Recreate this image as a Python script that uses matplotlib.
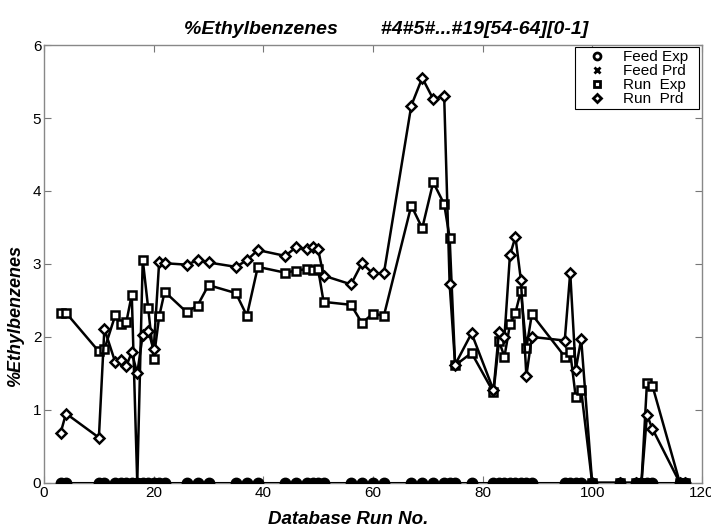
import numpy as np
import matplotlib.pyplot as plt
from matplotlib.lines import Line2D

plt.rcParams['font.family'] = ['Liberation Sans', 'DejaVu Sans']

# =============================
# DATA
# =============================
run_no = [3, 4, 10, 11, 13, 14, 15, 16, 17, 18, 19, 20, 21, 22, 26, 28, 30,
          35, 37, 39, 44, 46, 48, 49, 50, 51, 56, 58, 60, 62, 67, 69, 71, 73,
          74, 75, 78, 82, 83, 84, 85, 86, 87, 88, 89, 95, 96, 97, 98, 100,
          105, 108, 109, 110, 111, 116, 117]

run_exp = [2.33, 2.33, 1.80, 1.83, 2.30, 2.17, 2.20, 2.58, 0.00, 3.06, 2.39,
           1.70, 2.28, 2.62, 2.34, 2.43, 2.71, 2.60, 2.29, 2.96, 2.88, 2.91,
           2.93, 2.92, 2.93, 2.48, 2.44, 2.19, 2.32, 2.29, 3.80, 3.49, 4.12,
           3.82, 3.36, 1.61, 1.78, 1.24, 1.94, 1.73, 2.17, 2.33, 2.63, 1.85,
           2.31, 1.73, 1.79, 1.18, 1.27, 0.00, 0.00, 0.00, 0.00, 1.37, 1.33,
           0.00, 0.00]

run_prd = [0.68, 0.95, 0.62, 2.11, 1.65, 1.69, 1.60, 1.79, 1.50, 2.03, 2.08,
           1.83, 3.03, 3.01, 2.99, 3.05, 3.02, 2.96, 3.05, 3.19, 3.11, 3.23,
           3.20, 3.23, 3.20, 2.84, 2.72, 3.01, 2.87, 2.87, 5.17, 5.55, 5.26,
           5.30, 2.72, 1.62, 2.05, 1.27, 2.07, 2.00, 3.12, 3.37, 2.78, 1.47,
           2.00, 1.95, 2.88, 1.55, 1.97, 0.00, 0.00, 0.00, 0.00, 0.93, 0.74,
           0.00, 0.00]

# feed values are all zero for these runs
feed_exp = [0.0] * len(run_no)
feed_prd = [0.0] * len(run_no)

x_ticks = [0, 20, 40, 60, 80, 100, 120]
y_ticks = [0, 1, 2, 3, 4, 5, 6]

# =============================
# PLOT
# =============================
fig = plt.figure(figsize=(7.11, 5.30), dpi=100)
ax = fig.add_axes([0.062, 0.089, 0.925, 0.826])

ax.plot(run_no, run_exp, color="black", lw=1.8, marker="s",
        ms=6, mfc="white", mec="black", mew=1.8, zorder=2)
ax.plot(run_no, run_prd, color="black", lw=1.8, marker="D",
        ms=5.5, mfc="white", mec="black", mew=1.8, zorder=2)
# feed markers sit on top at zero
ax.plot(run_no, feed_exp, color="black", lw=1.5, marker="o",
        ms=7.5, mfc="black", mec="black", zorder=3)
ax.plot(run_no, feed_prd, color="black", lw=0, marker="x",
        ms=5, mew=1.5, zorder=3)

ax.set_xlim(0, 120)
ax.set_ylim(0, 6)
ax.set_xticks(x_ticks)
ax.set_yticks(y_ticks)
ax.tick_params(direction="in", top=True, right=True, length=5,
               labelsize=11, color="#777777", pad=2)
for s in ax.spines.values():
    s.set_color("#888888")
    s.set_linewidth(1.0)

ax.set_title("%Ethylbenzenes        #4#5#...#19[54-64][0-1]",
             fontsize=14, fontweight="bold", fontstyle="italic", pad=8,
             x=0.52)
ax.set_xlabel("Database Run No.", fontsize=13.5, fontweight="bold",
              fontstyle="italic", labelpad=9)
ax.xaxis.set_label_coords(0.462, -0.065)
ax.set_ylabel("%Ethylbenzenes", fontsize=13, fontweight="bold",
              fontstyle="italic")
ax.yaxis.set_label_coords(-0.030, 0.38)

handles = [
    Line2D([], [], ls="none", marker="o", ms=5, mfc="white", mec="black", mew=2),
    Line2D([], [], ls="none", marker="x", ms=4, mec="black", mew=2),
    Line2D([], [], ls="none", marker="s", ms=5, mfc="white", mec="black", mew=2),
    Line2D([], [], ls="none", marker="D", ms=4.5, mfc="white", mec="black", mew=2),
]
labels = ["Feed Exp", "Feed Prd", "Run  Exp", "Run  Prd"]
leg = ax.legend(handles, labels, loc="upper right", fontsize=11,
                fancybox=False, framealpha=1, edgecolor="black",
                handlelength=2.4, handletextpad=0.5, labelspacing=0.0,
                borderpad=0.2, borderaxespad=0.15)
leg.get_frame().set_linewidth(0.8)
# a little extra room on the right of the legend text, as in the original
leg._legend_box.sep = 0
for t in leg.get_texts():
    t.set_text(t.get_text() + "  ")

plt.savefig("out.png", dpi=100)
